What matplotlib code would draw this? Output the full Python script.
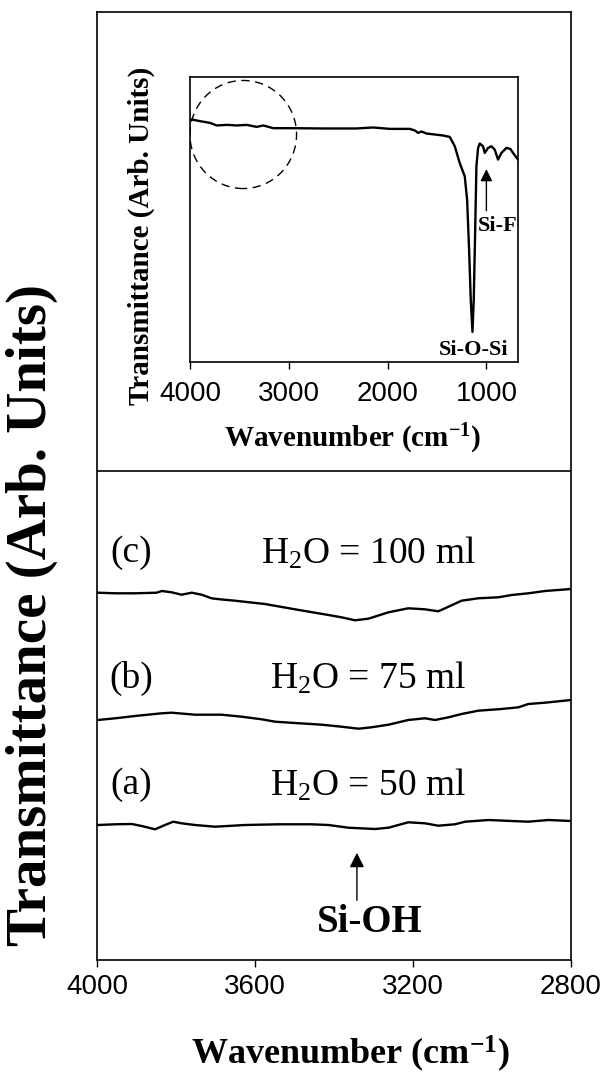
import matplotlib
matplotlib.use('Agg')
import matplotlib.pyplot as plt
from matplotlib.patches import Ellipse

plt.rcParams['font.family'] = 'Liberation Serif'
plt.rcParams['mathtext.default'] = 'regular'

# Main panel: Si-OH region (wavenumber, transmittance arb. units)
wn_c = [3998, 3954, 3904, 3849, 3836, 3811, 3786, 3760, 3735, 3710, 3689, 3651, 3575, 3499, 3414,
        3381, 3347, 3313, 3262, 3212, 3170, 3136, 3119, 3077, 3035, 2984, 2950, 2908, 2866, 2800]
t_c = [367.3, 366.7, 366.7, 367.3, 369, 367.7, 365.3, 367.3, 365.3, 361.7, 360.7, 359.3, 356, 350.7, 345,
       342.7, 339.7, 341.3, 347.7, 351.7, 350.7, 348.7, 351.7, 359.3, 361.7, 362.7, 365, 366.7, 369, 371]

wn_b = [3998, 3954, 3904, 3836, 3811, 3752, 3684, 3634, 3583, 3549, 3499, 3431, 3381, 3338, 3305,
        3262, 3212, 3170, 3144, 3110, 3077, 3035, 2976, 2933, 2908, 2866, 2800]
t_b = [240, 241.7, 244, 246.7, 247.3, 245.3, 245.3, 243.3, 240.7, 238.3, 237, 235.3, 233.3, 231.3, 232.7,
       235.3, 240, 241.7, 240, 242.7, 246, 249.3, 251, 252.7, 256, 257.3, 260]

wn_a = [3998, 3954, 3912, 3887, 3853, 3828, 3807, 3786, 3752, 3701, 3625, 3541, 3457, 3414, 3364,
        3296, 3262, 3212, 3170, 3136, 3094, 3068, 3009, 2950, 2908, 2857, 2800]
t_a = [135, 135.7, 136, 134, 130.7, 135, 138.3, 136.7, 135, 133.3, 135, 135.7, 135.7, 135, 132.3,
       131, 132.3, 137.7, 136.7, 134.3, 135.7, 138.3, 140, 139, 138.3, 140, 139]

labels = ['(a)', '(b)', '(c)']
water = ['$H_2O$ = 50 ml', '$H_2O$ = 75 ml', '$H_2O$ = 100 ml']
label_y = [175, 282, 407]

# Inset: full spectrum
wn_full = [3983, 3899, 3798, 3730, 3629, 3528, 3427, 3326, 3258, 3157, 2989, 2652, 2315, 2146, 1977,
           1775, 1725, 1691, 1657, 1607, 1438, 1371, 1320, 1270, 1219, 1195, 1175, 1158, 1141, 1128,
           1114, 1101, 1084, 1067, 1034, 1017, 983, 949, 916, 882, 848, 798, 757, 730, 680]
t_full = [241.7, 240, 238.3, 235.7, 236.3, 235.7, 236.3, 234.3, 235.7, 233, 233, 232.7, 232.7, 233.7, 232.3,
          232.3, 230.7, 228.3, 229.7, 227.7, 225.7, 224.3, 215, 198.3, 185, 161.7, 111.7, 61.7, 30, 61.7,
          128.3, 195, 213.3, 217.7, 215, 208.3, 213.3, 215, 211.7, 201.7, 208.3, 213.3, 212.3, 208.3, 201.7]

fig = plt.figure(figsize=(6.08, 10.75), dpi=100)

# main axes
ax = fig.add_axes([97 / 608, 1 - 960 / 1075, 474 / 608, 948 / 1075])
ax.plot(wn_c, t_c, color='black', lw=1.7)
ax.plot(wn_b, t_b, color='black', lw=1.7)
ax.plot(wn_a, t_a, color='black', lw=1.7)
ax.axhline(489, color='black', lw=1.2)
ax.set_xlim(4000, 2800)
ax.set_ylim(0, 948)
ax.set_xticks([4000, 3600, 3200, 2800])
ax.set_yticks([])
ax.tick_params(axis='x', direction='out', length=5, width=1, pad=5, labelsize=20,
               labelfontfamily='Liberation Sans')
for s in ax.spines.values():
    s.set_linewidth(1.2)

for lab, txt, y in zip(labels, water, label_y):
    ax.text(3914, y, lab, fontsize=27, ha='center', va='center')
    ax.text(3314, y, txt, fontsize=27, ha='center', va='center')

ax.annotate('', xy=(3342, 110), xytext=(3342, 57),
            arrowprops=dict(arrowstyle='-|>', color='black', lw=1, mutation_scale=22))
ax.text(3309, 37, 'Si-OH', fontsize=28, fontweight='bold', ha='center', va='center')

ax.set_xlabel('Wavenumber (cm$^{-1}$)', fontsize=26, fontweight='bold')
ax.xaxis.set_label_coords(0.534, -0.078)
ax.set_ylabel('Transmittance (Arb. Units)', fontsize=41, fontweight='bold')
ax.yaxis.set_label_coords(-0.137, 0.364)
ax.yaxis.label.set_va('center')

# inset axes
ins = fig.add_axes([190 / 608, 1 - 362 / 1075, 328 / 608, 285 / 1075])
ins.plot(wn_full, t_full, color='black', lw=1.7)
ins.set_xlim(4000, 680)
ins.set_ylim(0, 284)
ins.set_xticks([4000, 3000, 2000, 1000])
ins.set_yticks([])
ins.tick_params(axis='x', direction='out', length=5, width=1, pad=9, labelsize=20,
                labelfontfamily='Liberation Sans')
for s in ins.spines.values():
    s.set_linewidth(1.2)

ins.add_patch(Ellipse((3461, 226.7), 1079, 107.7, fill=False, ls=(0, (6, 4)), lw=1, color='black'))
ins.annotate('', xy=(1000, 195), xytext=(1000, 148),
             arrowprops=dict(arrowstyle='-|>', color='black', lw=1, mutation_scale=18))
ins.text(882, 135.7, 'Si-F', fontsize=16, fontweight='bold', ha='center', va='center')
ins.text(1128, 11.7, 'Si-O-Si', fontsize=16, fontweight='bold', ha='center', va='center')

ins.set_xlabel('Wavenumber (cm$^{-1}$)', fontsize=21, fontweight='bold')
ins.xaxis.set_label_coords(0.495, -0.21)
ins.set_ylabel('Transmittance (Arb. Units)', fontsize=21, fontweight='bold')
ins.yaxis.set_label_coords(-0.149, 0.442)
ins.yaxis.label.set_va('center')

fig.savefig('out.png', dpi=100)
